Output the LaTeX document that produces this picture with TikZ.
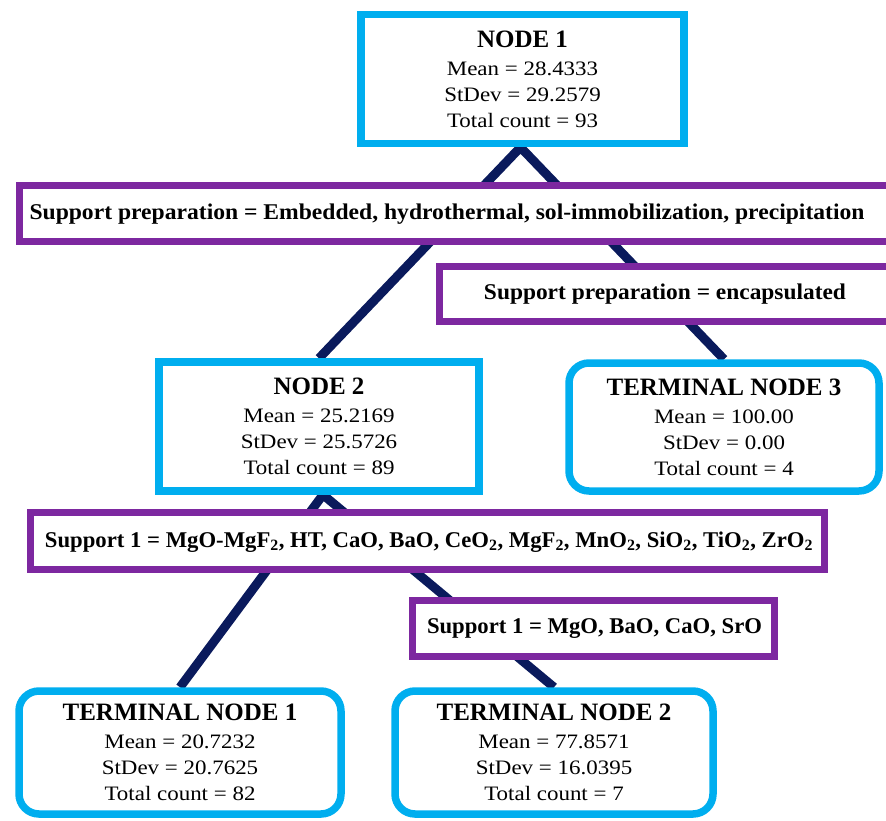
\documentclass[tikz,border=0pt]{standalone}
\usepackage{fontspec}
\setmainfont{Liberation Serif}
\usepackage{graphicx}
\definecolor{boxblue}{RGB}{0,174,239}
\definecolor{splitpurple}{RGB}{125,40,160}
\definecolor{edgenavy}{RGB}{10,26,92}
\newcommand{\statfont}{\fontsize{20.5}{26}\selectfont}
\newcommand{\titlefont}{\bfseries\fontsize{25}{26}\selectfont}
\newcommand{\splitfont}{\bfseries\fontsize{22.5}{24}\selectfont}
% statistics lines are set slightly wide
\newcommand{\stline}[1]{\scalebox{1.12}[1]{#1}}
\begin{document}
\begin{tikzpicture}[x=1pt,y=-1pt,
  statbox/.style={draw=boxblue,line width=7.5pt,fill=white,rectangle,
    inner sep=0pt,align=center,font=\statfont},
  termbox/.style={statbox,rounded corners=20pt},
  splitbox/.style={draw=splitpurple,line width=7pt,fill=white,rectangle,inner sep=0pt},
  splittext/.style={inner sep=0pt,font=\splitfont},
  edge/.style={draw=edgenavy,line width=9pt,line join=miter}]
\useasboundingbox (0,0) rectangle (886,821);

% box centres
\path (522.5,79) coordinate (c1)
      (319,426.5) coordinate (c2)
      (724,427) coordinate (c3)
      (180,752.5) coordinate (ct1)
      (554,752.5) coordinate (ct2);

% invisible anchors for the edges
\node[statbox,minimum width=323pt,minimum height=129pt,draw=none,fill=none] (n1) at (c1) {};
\node[statbox,minimum width=320pt,minimum height=129pt,draw=none,fill=none] (n2) at (c2) {};
\node[statbox,minimum width=310pt,minimum height=128pt,draw=none,fill=none] (tn3) at (c3) {};
\node[statbox,minimum width=322pt,minimum height=123pt,draw=none,fill=none] (tn1) at (ct1) {};
\node[statbox,minimum width=318pt,minimum height=123pt,draw=none,fill=none] (tn2) at (ct2) {};

% edges
\draw[edge] (n2.north) -- ([xshift=-2pt]n1.south) -- (tn3.north);
\draw[edge] (tn1.north) -- ([xshift=4pt]n2.south) -- (tn2.north);

% split condition boxes
\node[splitbox,minimum width=876pt,minimum height=55.7pt] (s1) at (457,213.8) {};
\node[splittext] (s1t) at (447,214) {\resizebox{835pt}{\height}{Support preparation = Embedded, hydrothermal, sol-immobilization, precipitation}};

\node[splitbox,minimum width=455pt,minimum height=55.5pt] (s2) at (667,293.8) {};
\node[splittext] (s2t) at (665,294) {\resizebox{362pt}{\height}{Support preparation = encapsulated}};

\node[splitbox,minimum width=794pt,minimum height=57pt] (s3) at (427.5,541) {};
\node[splittext] (s3t) at (429,542) {\resizebox{768pt}{\height}{Support 1 = MgO-MgF\textsubscript{2}, HT, CaO, BaO, CeO\textsubscript{2}, MgF\textsubscript{2}, MnO\textsubscript{2}, SiO\textsubscript{2}, TiO\textsubscript{2}, ZrO\textsubscript{2}}};

\node[splitbox,minimum width=362pt,minimum height=56pt] (s4) at (593.5,628.5) {};
\node[splittext] (s4t) at (594.5,629) {\resizebox{335pt}{\height}{Support 1 = MgO, BaO, CaO, SrO}};

% statistics boxes
\node[statbox,minimum width=323pt,minimum height=129pt] (b1) at (c1)
  {{\titlefont NODE 1}\\[2pt] \stline{Mean = 28.4333}\\ \stline{StDev = 29.2579}\\ \stline{Total count = 93}};
\node[statbox,minimum width=320pt,minimum height=129pt] (b2) at (c2)
  {{\titlefont NODE 2}\\[2pt] \stline{Mean = 25.2169}\\ \stline{StDev = 25.5726}\\ \stline{Total count = 89}};
\node[termbox,minimum width=310pt,minimum height=128pt] (b3) at (c3)
  {{\titlefont TERMINAL NODE 3}\\[2pt] \stline{Mean = 100.00}\\ \stline{StDev = 0.00}\\ \stline{Total count = 4}};
\node[termbox,minimum width=322pt,minimum height=123pt] (bt1) at (ct1)
  {{\titlefont TERMINAL NODE 1}\\[2pt] \stline{Mean = 20.7232}\\ \stline{StDev = 20.7625}\\ \stline{Total count = 82}};
\node[termbox,minimum width=318pt,minimum height=123pt] (bt2) at (ct2)
  {{\titlefont TERMINAL NODE 2}\\[2pt] \stline{Mean = 77.8571}\\ \stline{StDev = 16.0395}\\ \stline{Total count = 7}};
\end{tikzpicture}
\end{document}
